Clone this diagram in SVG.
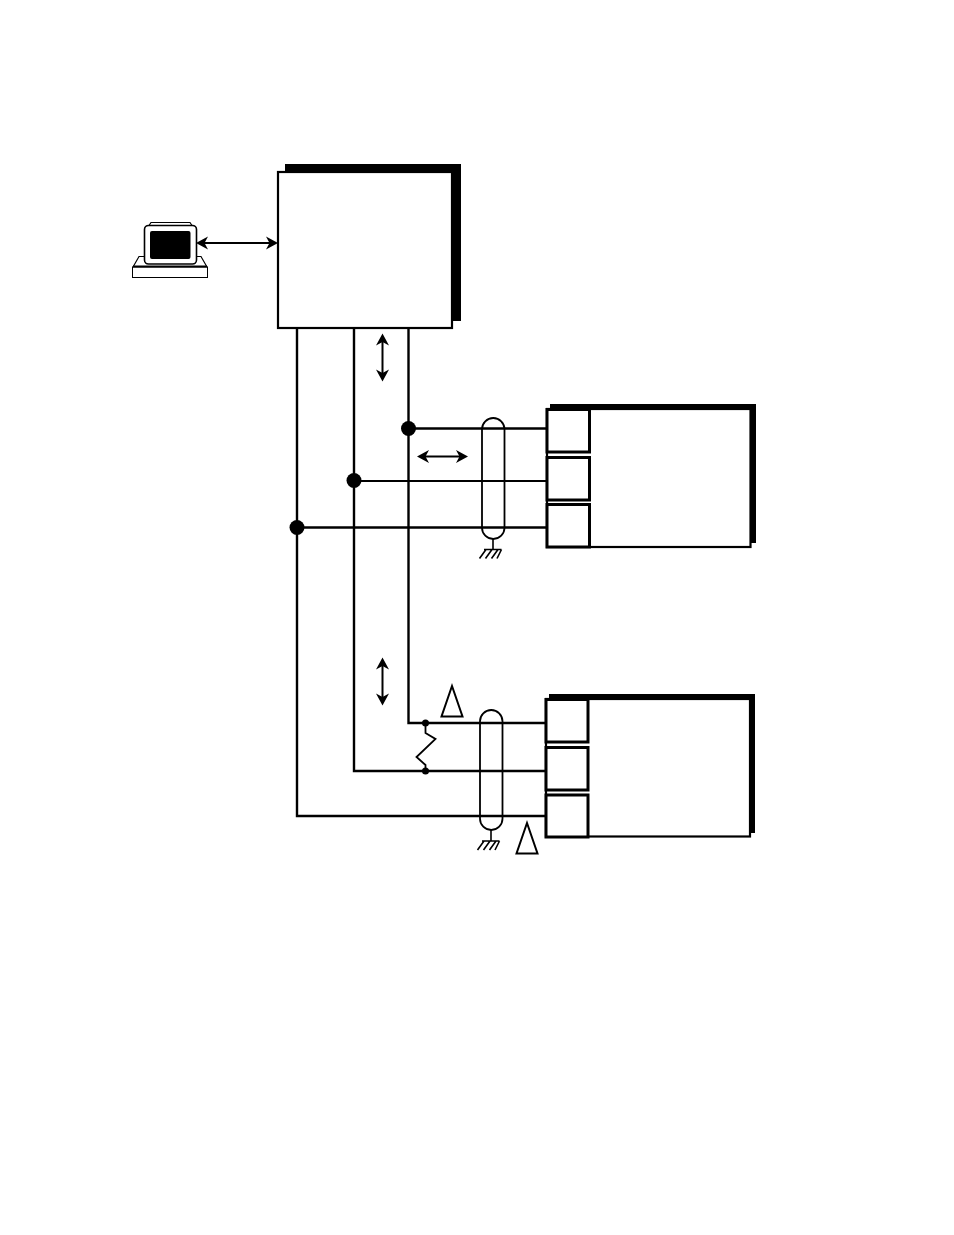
<svg xmlns="http://www.w3.org/2000/svg" width="954" height="1235" viewBox="0 0 954 1235">
<style>
.ln{fill:none;stroke:#000;stroke-width:2.4}
.th{fill:none;stroke:#000;stroke-width:1.8}
.gnd{fill:none;stroke:#000;stroke-width:1.6}
.box{fill:#fff;stroke:#000;stroke-width:2.2}
.term{fill:#fff;stroke:#000;stroke-width:3}
.sh{fill:#000}
.arr{fill:none;stroke:#000;stroke-width:2}
.head{fill:#000}
.tri{fill:#fff;stroke:#000;stroke-width:2}
.shield{fill:none;stroke:#000;stroke-width:1.8}
</style>
<defs>
<path id="ah" class="head" d="M0 0 L-12 -6.500 L-8.500 0 L-12 6.500 Z"/>
</defs>
<rect width="954" height="1235" fill="#fff"/>
<g id="connectors">
<path class="ln" d="M297 328V816H546"/>
<path class="ln" d="M354 328V771H546"/>
<path class="ln" d="M408.500 328V723H546"/>
<path class="ln" stroke-width="2.800" d="M408.500 428.500H547"/>
<path class="th" d="M354 481H547"/>
<path class="ln" d="M297 527.500H547"/>
<path class="th" d="M425.500 723V733L435.500 739L416.500 757L425.500 765V771"/>
<g id="arrow-computer">
<path class="arr" d="M200 243H274"/>
<use href="#ah" transform="translate(196,243) rotate(180)"/>
<use href="#ah" transform="translate(278,243)"/>
</g>
<g id="arrow-upper-bus">
<path class="arr" d="M382.500 338V377"/>
<use href="#ah" transform="translate(382.500,333.500) rotate(-90)"/>
<use href="#ah" transform="translate(382.500,381.500) rotate(90)"/>
</g>
<g id="arrow-drop">
<path class="arr" d="M422 456.500H463"/>
<use href="#ah" transform="translate(417,456.500) rotate(180)"/>
<use href="#ah" transform="translate(468,456.500)"/>
</g>
<g id="arrow-lower-bus">
<path class="arr" d="M382.500 662V701"/>
<use href="#ah" transform="translate(382.500,657.500) rotate(-90)"/>
<use href="#ah" transform="translate(382.500,705.500) rotate(90)"/>
</g>
</g>
<g id="junctions">
<circle class="head" cx="408.500" cy="428.500" r="7.500"/>
<circle class="head" cx="354" cy="480.500" r="7.500"/>
<circle class="head" cx="297" cy="527.500" r="7.500"/>
<circle class="head" cx="425.500" cy="723" r="3.500"/>
<circle class="head" cx="425.500" cy="771" r="3.500"/>
</g>
<g id="computer">
<path d="M149 225.500L151 222.500H190L192 225.500" fill="#fff" stroke="#000" stroke-width="1.200"/>
<path d="M133 267L139 256.500H201L207 267" fill="#fff" stroke="#000" stroke-width="1.200"/>
<rect x="132.500" y="267" width="75" height="10.500" fill="#fff" stroke="#000" stroke-width="1"/>
<path d="M133 266.500H207" stroke="#000" stroke-width="2"/>
<rect x="144.500" y="225.500" width="52" height="38.500" rx="4" fill="#fff" stroke="#000" stroke-width="1.600"/>
<rect x="150" y="231" width="40.500" height="28" rx="2" fill="#000"/>
</g>
<g id="controller">
<rect class="sh" x="285" y="164" width="176" height="157"/>
<rect class="box" x="278" y="172" width="174" height="156"/>
</g>
<g id="shield-upper">
<rect class="shield" x="482" y="418" width="22.500" height="121" rx="11.250"/>
<path class="gnd" d="M493 539V549M479.500 558.500L486 549.500M485.500 558.500L492 549.500M491.500 558.500L498 549.500M497 558.500L501.500 549.500M484 549.500H501.500"/>
</g>
<g id="shield-lower">
<rect class="shield" x="480" y="710" width="22.500" height="120" rx="11.250"/>
<path class="gnd" d="M491 830V841M477.500 850L484 841M483.500 850L490 841M489.500 850L496 841M495 850L499.500 841M482 841H499.500"/>
</g>
<g id="device-upper">
<rect class="sh" x="550" y="404" width="206" height="139"/>
<rect class="box" x="547" y="409" width="203.500" height="138"/>
<rect class="term" x="547" y="409.500" width="42.500" height="42.500"/>
<rect class="term" x="547" y="457.500" width="42.500" height="42.500"/>
<rect class="term" x="547" y="504.500" width="42.500" height="42.500"/>
</g>
<g id="device-lower">
<rect class="sh" x="549" y="694" width="206" height="139"/>
<rect class="box" x="546" y="699" width="204" height="137.500"/>
<rect class="term" x="546" y="699.500" width="42" height="42.500"/>
<rect class="term" x="546" y="747.500" width="42" height="42.500"/>
<rect class="term" x="546" y="795" width="42" height="42"/>
</g>
<g id="delta-1"><path class="tri" d="M452 686L462.500 716.500H441.500Z"/></g>
<g id="delta-2"><path class="tri" d="M527 823L537.500 853.500H516.500Z"/></g>
</svg>
